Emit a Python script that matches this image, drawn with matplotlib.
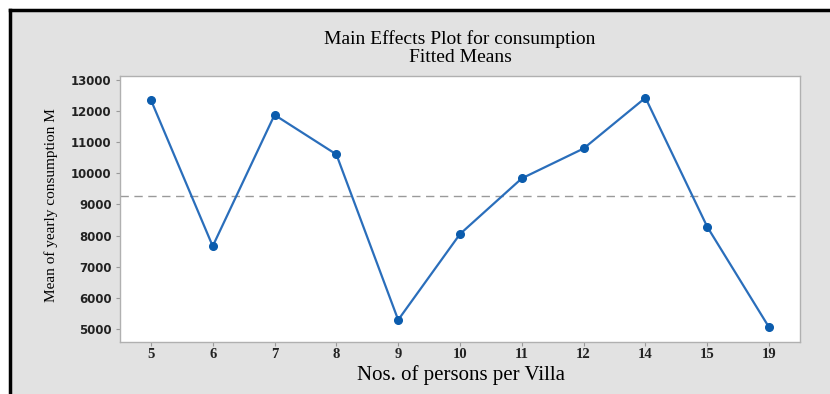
import matplotlib.pyplot as plt
from matplotlib.lines import Line2D

persons = ["5", "6", "7", "8", "9", "10", "11", "12", "14", "15", "19"]
mean_consumption = [12360, 7660, 11880, 10610, 5290, 8050, 9840, 10800, 12430, 8280, 5050]
overall_mean = 9270
yticks = [5000, 6000, 7000, 8000, 9000, 10000, 11000, 12000, 13000]

fig = plt.figure(figsize=(8.3, 3.94), dpi=100)
fig.patch.set_facecolor("white")

# grey panel with a dark top/left border
W, H = 830, 394
bg = plt.Rectangle((9 / W, 0), 1 - 9 / W, 1 - 9 / H, transform=fig.transFigure,
                   facecolor="#e2e2e2", edgecolor="none", zorder=-10)
fig.patches.append(bg)
fig.add_artist(Line2D([10 / W, 1], [1 - 10 / H, 1 - 10 / H], color="black", lw=2.5,
                      transform=fig.transFigure, zorder=-5))
fig.add_artist(Line2D([10 / W, 10 / W], [0, 1 - 10 / H], color="black", lw=2.5,
                      transform=fig.transFigure, zorder=-5))

ax = fig.add_axes([120 / W, 1 - 342 / H, 680 / W, 266 / H])
ax.set_zorder(5)
ax.set_facecolor("white")

x = list(range(1, len(persons) + 1))
ax.plot(x, mean_consumption, color="#2a6ebb", lw=1.6, zorder=3)
ax.plot(x, mean_consumption, "o", color="#0b5cad", ms=5.5, zorder=4)
ax.axhline(overall_mean, color="#9a9a9a", lw=1.0, ls=(0, (6, 4)), zorder=2)

ax.set_xlim(0.5, 11.5)
ax.set_ylim(4580, 13130)
ax.set_xticks(x)
ax.set_xticklabels(persons, fontfamily="Liberation Serif", fontweight="bold",
                   fontsize=10.5, color="#222222")
ax.set_yticks(yticks)
ax.set_yticklabels([str(v) for v in yticks], fontfamily="DejaVu Sans",
                   fontweight="bold", fontsize=8.5, color="#222222")
ax.tick_params(axis="both", length=3, width=0.8, color="#999999", pad=3)
ax.tick_params(axis="x", pad=1.5)
for s in ax.spines.values():
    s.set_color("#b0b0b0")
    s.set_linewidth(1.0)

fig.text(460 / W, 1 - 39 / H, "Main Effects Plot for consumption",
         ha="center", va="center", fontfamily="Liberation Serif", fontsize=14)
fig.text(460 / W, 1 - 57 / H, "Fitted Means",
         ha="center", va="center", fontfamily="Liberation Serif", fontsize=14)
fig.text(461 / W, 1 - 375 / H, "Nos. of persons per Villa",
         ha="center", va="center", fontfamily="Liberation Serif", fontsize=15)
fig.text(51 / W, 1 - 205 / H, "Mean of yearly consumption M", rotation=90,
         ha="center", va="center", fontfamily="Liberation Serif", fontsize=11)

fig.savefig("out.png", dpi=100, facecolor=fig.get_facecolor())
